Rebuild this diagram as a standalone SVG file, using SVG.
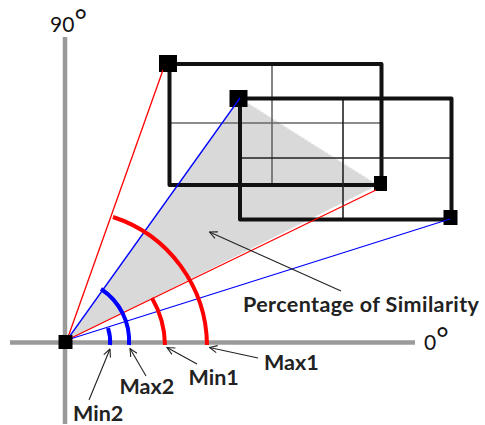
<svg xmlns="http://www.w3.org/2000/svg" width="485" height="425" viewBox="0 0 485 425">
<style>
.axis{stroke:#9a9a9a;stroke-width:4.5;fill:none}
.rect{stroke:#111;stroke-width:4;fill:none;stroke-linejoin:round}
.grid1{stroke:#666;stroke-width:1.6;fill:none}
.grid2{stroke:#222;stroke-width:1.6;fill:none}
.corner{fill:#000}
.red{stroke:#ff0000;stroke-width:1.3;fill:none}
.blue{stroke:#0000ff;stroke-width:1.3;fill:none}
.arcr{stroke:#ff0000;stroke-width:4;fill:none}
.arcb{stroke:#0000ff;stroke-width:4;fill:none}
.ptr{stroke:#222;stroke-width:1.1;fill:none;marker-end:url(#ah)}
.lbl{font-family:Lato,"Liberation Sans",sans-serif;font-weight:bold;font-size:21.5px;fill:#222}
.deg{font-family:Lato,"Liberation Sans",sans-serif;font-size:21px;fill:#111}
</style>
<defs>
<marker id="ah" viewBox="0 0 10 10" refX="9.5" refY="5" markerUnits="userSpaceOnUse" markerWidth="9" markerHeight="9" orient="auto">
<path d="M1,1 L9.5,5 L1,9" fill="none" stroke="#222" stroke-width="1.2"/>
</marker>
</defs>
<rect width="485" height="425" fill="#fff"/>
<g id="axes">
<line class="axis" x1="65" y1="37" x2="65" y2="424"/>
<line class="axis" x1="10" y1="342.5" x2="415" y2="342.5"/>
<text class="deg" x="50" y="31.5">90<tspan font-size="30">°</tspan></text>
<text class="deg" x="424" y="350">0<tspan font-size="30">°</tspan></text>
</g>
<g id="similarity-area">
<polygon points="67,341 240,98 378,185" fill="#d9d9d9"/>
<line x1="240" y1="98" x2="378" y2="185" stroke="#f4f4f4" stroke-width="1.3" stroke-dasharray="2,2"/>
</g>
<g id="rect1">
<line class="grid1" x1="272" y1="64" x2="272" y2="185"/>
<line class="grid1" x1="169.5" y1="123" x2="381.5" y2="123"/>
<rect class="rect" x="169.5" y="64" width="212" height="121"/>
<rect class="corner" x="159" y="55" width="18" height="17"/>
<rect class="corner" x="374" y="176" width="13" height="15"/>
</g>
<g id="rect2">
<line class="grid2" x1="343" y1="98.5" x2="343" y2="219.5"/>
<line class="grid2" x1="240" y1="158" x2="451.5" y2="158"/>
<rect class="rect" x="240" y="98.5" width="211.5" height="121"/>
<rect class="corner" x="229.5" y="90" width="18" height="17"/>
<rect class="corner" x="443.5" y="210" width="14" height="15"/>
</g>
<g id="connectors">
<line class="red" x1="67" y1="340" x2="163" y2="70"/>
<line class="red" x1="67" y1="340" x2="376" y2="190"/>
<line class="blue" x1="67" y1="340" x2="240" y2="98"/>
<line class="blue" x1="67" y1="340" x2="450" y2="219"/>
<path class="arcr" d="M113,217 A136,136 0 0,1 207,345"/>
<path class="arcr" d="M152,298 A96,96 0 0,1 165,345"/>
<path class="arcb" d="M101,289 A62,62 0 0,1 129,345"/>
<path class="arcb" d="M108,328 A43,43 0 0,1 110,345"/>
<line class="ptr" x1="341" y1="291" x2="209.5" y2="232"/>
<line class="ptr" x1="89" y1="400" x2="110" y2="349"/>
<line class="ptr" x1="146" y1="376" x2="130" y2="348.5"/>
<line class="ptr" x1="197" y1="364" x2="167" y2="347.5"/>
<line class="ptr" x1="258" y1="358" x2="209.5" y2="347.5"/>
</g>
<rect class="corner" x="58.5" y="335" width="14" height="14"/>
<g id="labels">
<text class="lbl" x="243" y="311.5" letter-spacing="0.4">Percentage of Similarity</text>
<text class="lbl" x="264" y="369.5">Max1</text>
<text class="lbl" x="188.5" y="385">Min1</text>
<text class="lbl" x="119.5" y="393.5">Max2</text>
<text class="lbl" x="73" y="421">Min2</text>
</g>
</svg>
